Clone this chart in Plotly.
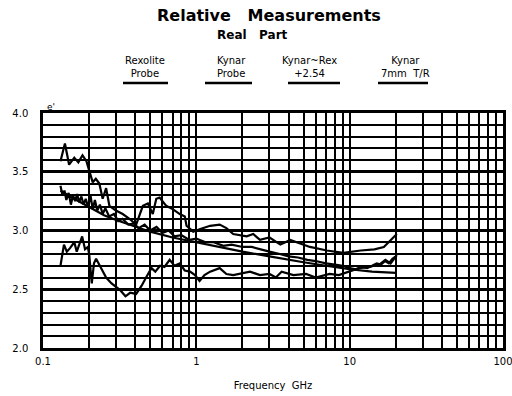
import plotly.graph_objects as go

# Frequency (GHz) and real permittivity for each measurement
freq_rex = [0.130, 0.139, 0.148, 0.160, 0.170, 0.181, 0.192, 0.200, 0.211, 0.221, 0.233, 0.245,
            0.258, 0.271, 0.299, 0.331, 0.366, 0.405, 0.448, 0.483, 0.520, 0.548, 0.576, 0.636,
            0.705, 0.780, 0.841, 0.863, 0.954, 1.05, 1.23, 1.42, 1.57, 1.74, 2.13, 2.35, 2.60,
            3.0, 3.53, 4.1, 5.5, 7.1, 9.1, 11.8, 14.5, 16.7, 19.4, 20.3]
eps_rex = [3.59, 3.74, 3.56, 3.62, 3.58, 3.64, 3.59, 3.51, 3.41, 3.44, 3.40, 3.27,
           3.36, 3.21, 3.17, 3.14, 3.10, 3.05, 3.21, 3.23, 3.14, 3.27, 3.28, 3.21,
           3.18, 3.14, 3.12, 3.04, 2.99, 3.01, 3.04, 3.05, 3.02, 2.97, 2.95, 2.97, 2.92,
           2.94, 2.88, 2.92, 2.86, 2.83, 2.81, 2.83, 2.84, 2.86, 2.95, 2.97]

freq_kyn = [0.130, 0.134, 0.138, 0.142, 0.147, 0.152, 0.157, 0.162, 0.167, 0.172, 0.178, 0.184,
            0.190, 0.197, 0.204, 0.211, 0.218, 0.226, 0.235, 0.245, 0.255, 0.270, 0.290, 0.310,
            0.330, 0.360, 0.390, 0.420, 0.460, 0.50, 0.55, 0.60, 0.66, 0.72, 0.80, 0.90, 1.0,
            1.15, 1.3, 1.5, 1.7, 2.0, 2.3, 2.6, 3.0, 3.5, 4.0, 4.6, 5.3, 6.0, 7.0, 8.0, 9.0,
            10.0, 11.0, 12.0, 13.0, 14.0, 15.0, 16.0, 17.0, 18.0, 19.0, 20.0]
eps_kyn = [3.38, 3.30, 3.34, 3.26, 3.32, 3.22, 3.30, 3.25, 3.31, 3.24, 3.29, 3.22,
           3.27, 3.20, 3.30, 3.18, 3.26, 3.17, 3.22, 3.14, 3.19, 3.12, 3.14, 3.08,
           3.10, 3.05, 3.06, 3.02, 3.05, 3.00, 3.03, 2.98, 3.00, 2.95, 2.96, 2.92, 2.93,
           2.90, 2.90, 2.87, 2.88, 2.86, 2.86, 2.84, 2.82, 2.80, 2.78, 2.77, 2.75, 2.74, 2.72, 2.71, 2.70,
           2.68, 2.67, 2.69, 2.68, 2.70, 2.72, 2.71, 2.74, 2.72, 2.76, 2.78]

freq_diff = [0.130, 0.137, 0.143, 0.150, 0.160, 0.163, 0.166, 0.180, 0.188, 0.196, 0.200, 0.208,
             0.215, 0.222, 0.230, 0.245, 0.258, 0.280, 0.300, 0.320, 0.345, 0.370, 0.405, 0.440,
             0.470, 0.510, 0.540, 0.580, 0.620, 0.670, 0.720, 0.780, 0.840, 0.910, 0.980, 1.05,
             1.13, 1.23, 1.42, 1.57, 1.74, 1.90, 2.24, 2.60, 3.0, 3.3, 3.6, 4.3, 5.2, 6.0, 7.4,
             8.5, 9.8, 11.5, 13.4, 15.6, 17.1, 18.5, 20.3]
eps_diff = [2.70, 2.88, 2.82, 2.85, 2.90, 2.86, 2.82, 2.95, 2.84, 2.86, 2.80, 2.55,
            2.72, 2.76, 2.72, 2.66, 2.60, 2.55, 2.52, 2.49, 2.44, 2.47, 2.46, 2.53,
            2.60, 2.68, 2.65, 2.70, 2.69, 2.75, 2.70, 2.72, 2.66, 2.65, 2.62, 2.57,
            2.62, 2.65, 2.68, 2.63, 2.62, 2.63, 2.65, 2.62, 2.63, 2.60, 2.65, 2.62, 2.63, 2.60, 2.63,
            2.62, 2.65, 2.68, 2.69, 2.71, 2.75, 2.72, 2.79]

freq_tr = [0.13, 0.15, 0.20, 0.25, 0.30, 0.40, 0.50, 0.70, 1.0, 1.5, 2.0, 3.0, 4.0, 5.0, 7.0,
           10.0, 14.0, 20.0]
eps_tr = [3.34, 3.29, 3.20, 3.13, 3.09, 3.03, 2.99, 2.94, 2.90, 2.85, 2.82, 2.78, 2.75, 2.73,
          2.70, 2.67, 2.65, 2.64]

legend_labels = ["Rexolite<br>Probe", "Kynar<br>Probe", "Kynar~Rex<br>+2.54", "Kynar<br>7mm  T/R"]
x_ticks = [0.1, 1, 10, 100]
x_tick_text = ["0.1", "1", "10", "100"]

FONT = "DejaVu Sans"
INK = "black"

fig = go.Figure()
for fx, fy, name in [(freq_rex, eps_rex, "Rexolite Probe"),
                     (freq_kyn, eps_kyn, "Kynar Probe"),
                     (freq_diff, eps_diff, "Kynar~Rex +2.54"),
                     (freq_tr, eps_tr, "Kynar 7mm T/R")]:
    fig.add_trace(go.Scatter(x=fx, y=fy, mode="lines", name=name,
                             line=dict(color=INK, width=2.2)))

# plot area in pixels: x 43..503, y 113..348
L, R, T, B = 43, 503, 113, 348
W, H = 512, 396


def px_x(p):
    return (p - L) / (R - L)


def px_y(p):
    return (B - p) / (B - T)


# headings
fig.add_annotation(x=px_x(269), y=px_y(15), xref="paper", yref="paper",
                   text="<b>Relative   Measurements</b>", showarrow=False,
                   font=dict(family=FONT, size=16, color=INK), yanchor="middle")
fig.add_annotation(x=px_x(252), y=px_y(35), xref="paper", yref="paper",
                   text="<b>Real   Part</b>", showarrow=False,
                   font=dict(family=FONT, size=12, color=INK), yanchor="middle")

# legend: labels with an underline sample below each
legend_x = [145, 231, 309, 405]
legend_lines = [(123, 168), (205, 252), (288, 340), (378, 428)]
for lab, cx, (u0, u1) in zip(legend_labels, legend_x, legend_lines):
    fig.add_annotation(x=px_x(cx), y=px_y(67), xref="paper", yref="paper",
                       text=lab, showarrow=False, font=dict(family=FONT, size=10, color=INK),
                       xanchor="center", yanchor="middle")
    fig.add_shape(type="line", xref="paper", yref="paper",
                  x0=px_x(u0), x1=px_x(u1), y0=px_y(83), y1=px_y(83),
                  line=dict(color=INK, width=2.5))

fig.add_annotation(x=px_x(45), y=px_y(100), xref="paper", yref="paper", text="e'",
                   showarrow=False, font=dict(family=FONT, size=9, color=INK))

fig.update_layout(
    width=W, height=H,
    margin=dict(l=L, r=W - R, t=T, b=H - B, autoexpand=False),
    paper_bgcolor="white", plot_bgcolor="white",
    showlegend=False,
)

fig.update_xaxes(type="log", range=[-1, 2], tickvals=x_ticks, ticktext=x_tick_text,
                 automargin=False, ticklabeloverflow="allow",
                 showline=True, mirror=True, linecolor=INK, linewidth=2.5,
                 showgrid=True, gridcolor=INK, gridwidth=2,
                 minor=dict(dtick="D1", showgrid=True, gridcolor=INK, gridwidth=1.5),
                 ticks="", ticklabelstandoff=2, tickfont=dict(family=FONT, size=10, color=INK),
                 title=dict(text="Frequency  GHz", font=dict(family=FONT, size=10, color=INK),
                            standoff=17),
                 zeroline=False)
fig.update_yaxes(range=[2, 4], dtick=0.5, tickformat=".1f",
                 automargin=False,
                 showline=True, mirror=True, linecolor=INK, linewidth=2.5,
                 showgrid=True, gridcolor=INK, gridwidth=3,
                 minor=dict(dtick=0.1, showgrid=True, gridcolor=INK, gridwidth=2),
                 ticks="", ticklabelstandoff=10, tickfont=dict(family=FONT, size=10, color=INK),
                 zeroline=False)

fig.write_html("out.html")
